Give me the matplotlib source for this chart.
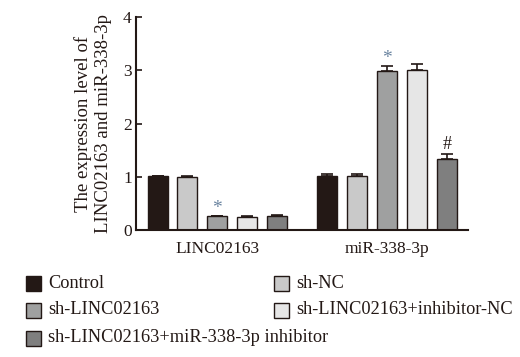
import matplotlib
matplotlib.use("Agg")
import matplotlib.pyplot as plt
from matplotlib.patches import Rectangle
import numpy as np

plt.rcParams['font.family'] = ['Liberation Serif', 'DejaVu Serif']

categories = ["LINC02163", "miR-338-3p"]
groups = ["Control", "sh-NC", "sh-LINC02163", "sh-LINC02163+inhibitor-NC",
          "sh-LINC02163+miR-338-3p inhibitor"]
colors = ["#231815", "#c9c9c9", "#9fa0a0", "#e6e6e6", "#7f7f7f"]
means = [
    [1.01, 0.99, 0.26, 0.24, 0.26],   # LINC02163
    [1.01, 1.01, 2.99, 3.01, 1.33],   # miR-338-3p
]
errors = [
    [0.01, 0.03, 0.005, 0.02, 0.02],
    [0.04, 0.04, 0.09, 0.11, 0.09],
]
# significance marks: (category index, group index, symbol)
marks = [(0, 2, "*"), (1, 2, "*"), (1, 4, "#")]
mark_colors = {"*": "#6a84a0", "#": "#231815"}
yticks = [0, 1, 2, 3, 4]

W, H = 520, 357
fig = plt.figure(figsize=(W / 100, H / 100), dpi=100)
ax = fig.add_axes([136 / W, 1 - 230 / H, (468 - 136) / W, (230 - 17) / H])

step = 0.1765
width = 0.118
x = np.arange(len(categories))
for gi, (g, c) in enumerate(zip(groups, colors)):
    pos = x + (gi - 2) * step
    vals = [means[ci][gi] for ci in range(len(categories))]
    errs = [errors[ci][gi] for ci in range(len(categories))]
    ax.bar(pos, vals, width=width, color=c, edgecolor="#231815", linewidth=1.0, zorder=2)
    ax.errorbar(pos, vals, yerr=[np.zeros(len(errs)), errs], fmt="none",
                ecolor="#231815", elinewidth=1.2, capsize=4.5, capthick=1.2, zorder=1)

for ci, gi, sym in marks:
    xp = x[ci] + (gi - 2) * step
    top = means[ci][gi] + errors[ci][gi]
    if sym == "*":
        ax.annotate(sym, xy=(xp, top), xytext=(0, -1), textcoords="offset points",
                    ha="center", va="bottom", fontsize=14, color=mark_colors[sym])
    else:
        ax.annotate(sym, xy=(xp, top), xytext=(0, 1), textcoords="offset points",
                    ha="center", va="bottom", fontsize=13, color=mark_colors[sym])

ax.set_xlim(-0.48, 1.478)
ax.set_ylim(0, 4)
ax.set_yticks(yticks)
ax.set_yticklabels([str(t) for t in yticks], fontsize=12.5)
ax.set_xticks(x)
ax.set_xticklabels(categories, fontsize=12.5)
ax.tick_params(axis="both", direction="in", length=4, width=1.2, colors="#231815",
               labelcolor="#231815")
ax.tick_params(axis="x", pad=8)
ax.tick_params(axis="y", pad=3)
for s in ["top", "right"]:
    ax.spines[s].set_visible(False)
for s in ["left", "bottom"]:
    ax.spines[s].set_linewidth(1.5)
    ax.spines[s].set_color("#231815")
ax.set_ylabel("The expression level of\nLINC02163 and miR-338-3p", fontsize=13.5,
              color="#231815", labelpad=8, linespacing=1.2)

# legend drawn manually in figure pixels
rows = [(0, 0), (0, 1), (1, 0), (1, 1), (2, 0)]
col_x = [26, 274]
row_y = [283, 310, 338]
sq = 15
for (r, cc), g, c in zip(rows, groups, colors):
    xs = col_x[cc]
    yc = row_y[r]
    fig.patches.append(Rectangle((xs / W, 1 - (yc + sq / 2) / H), sq / W, sq / H,
                                 transform=fig.transFigure, facecolor=c,
                                 edgecolor="#231815", linewidth=1.0))
    fig.text((xs + sq + 7) / W, 1 - yc / H, g, fontsize=13.2, va="center", ha="left",
             color="#231815")

fig.savefig("out.png", dpi=100)
